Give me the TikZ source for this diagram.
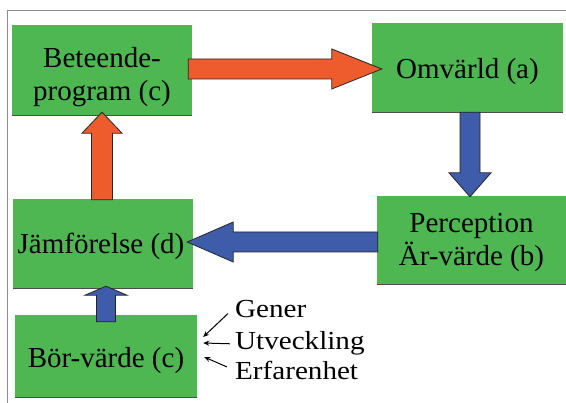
\documentclass[tikz,border=0pt]{standalone}
\usepackage{graphicx}
\usepackage{fontspec}
\setmainfont{Liberation Serif}
\usetikzlibrary{calc,arrows.meta}
\definecolor{boxgreen}{RGB}{78,183,82}
\definecolor{arrred}{RGB}{238,92,46}
\definecolor{arrblue}{RGB}{62,92,170}
\newcommand{\lt}[1]{\scalebox{1.12}[1]{#1}}
% horizontal block arrow: color, start, tip, shaft half, head half, head base offset from tip
\newcommand{\harrow}[6]{%
  \draw[barrow,fill=#1] ($(#2)+(0,-#4)$) -- ($(#3)+(#6,-#4)$) -- ($(#3)+(#6,-#5)$) -- (#3)
    -- ($(#3)+(#6,#5)$) -- ($(#3)+(#6,#4)$) -- ($(#2)+(0,#4)$) -- cycle;}
% vertical block arrow
\newcommand{\varrow}[6]{%
  \draw[barrow,fill=#1] ($(#2)+(-#4,0)$) -- ($(#3)+(-#4,#6)$) -- ($(#3)+(-#5,#6)$) -- (#3)
    -- ($(#3)+(#5,#6)$) -- ($(#3)+(#4,#6)$) -- ($(#2)+(#4,0)$) -- cycle;}
\tikzset{
  box/.style={fill=boxgreen, inner sep=0pt},
  txt/.style={inner sep=0pt, align=center, font=\fontsize{29}{33}\selectfont},
  lbl/.style={anchor=base west, inner sep=0pt, font=\fontsize{26}{30}\selectfont},
  barrow/.style={draw=black!85, line width=0.8pt, line join=miter},
  shadowline/.style={draw=black!70, line width=1.2pt},
  thinarrow/.style={draw=black, line width=1pt, -{Stealth[length=6pt,width=5pt]}},
  frame/.style={draw=black!45, line width=1pt}
}
\begin{document}
\begin{tikzpicture}[x=1pt,y=-1pt]
\useasboundingbox (0,0) rectangle (566,403);
\fill[white] (0,0) rectangle (566,403);
\draw[frame] (7,403) -- (7,11) -- (566,11);

\node[box, minimum width=180pt, minimum height=90pt] (bp) at (102,70) {};
\node[box, minimum width=191pt, minimum height=89pt] (om) at (467.5,67.5) {};
\node[box, minimum width=189pt, minimum height=88pt] (pe) at (471.5,240) {};
\node[box, minimum width=180pt, minimum height=89pt] (jf) at (103,243.5) {};
\node[box, minimum width=182pt, minimum height=82pt] (bv) at (106,356) {};

\node[txt] (bpt) at ($(bp)+(0,6.75)$) {Beteende-\\program (c)};
\node[txt] (omt) at ($(om)+(0,3.75)$) {Omvärld (a)};
\node[txt] (pet) at ($(pe)+(0,2.75)$) {Perception\\Är-värde (b)};
\node[txt] (jft) at ($(jf)+(-2,2.75)$) {Jämförelse (d)};
\node[txt] (bvt) at ($(bv)+(0,4.25)$) {Bör-värde (c)};

\foreach \n in {bp,om,pe,jf,bv} \draw[shadowline] (\n.south west) -- (\n.south east);

% red: Beteendeprogram -> Omvarld
\coordinate (r1s) at ($(bp.east)+(-4,-1)$);
\coordinate (r1t) at ($(om.west |- r1s)+(10,0)$);
\harrow{arrred}{r1s}{r1t}{10}{20}{-50}

% blue: Omvarld -> Perception
\coordinate (b1s) at ($(om.south)+(2.5,0)$);
\coordinate (b1t) at ($(pe.north -| b1s)+(0,1)$);
\varrow{arrblue}{b1s}{b1t}{10}{21}{-24}

% blue: Perception -> Jamforelse
\coordinate (b2s) at ($(pe.west)+(1,2)$);
\coordinate (b2t) at ($(jf.east |- b2s)+(-6,0)$);
\harrow{arrblue}{b2s}{b2t}{10}{20}{46}

% red: Jamforelse -> Beteendeprogram
\coordinate (r2s) at ($(jf.north)+(-1,1)$);
\coordinate (r2t) at ($(bp.south -| r2s)+(0,-3)$);
\varrow{arrred}{r2s}{r2t}{10.5}{20}{21}

% blue: Bor-varde -> Jamforelse
\coordinate (b3s) at ($(bv.north)+(0,7)$);
\coordinate (b3t) at ($(jf.south -| b3s)+(0,-2)$);
\varrow{arrblue}{b3s}{b3t}{9.5}{21}{9}

% influences
\node[lbl] (gen) at (235,318) {\lt{Gener}};
\node[lbl] (utv) at (235,350) {\lt{Utveckling}};
\node[lbl] (erf) at (235,380) {\lt{Erfarenhet}};
\draw[thinarrow] ($(gen.west)+(-7,4)$) -- ($(bv.east)+(6,-19)$);
\draw[thinarrow] ($(utv.west)+(-5,0)$) -- ($(bv.east)+(6,-13)$);
\draw[thinarrow] ($(erf.west)+(-8,-4)$) -- ($(bv.east)+(7,1)$);
\end{tikzpicture}
\end{document}
